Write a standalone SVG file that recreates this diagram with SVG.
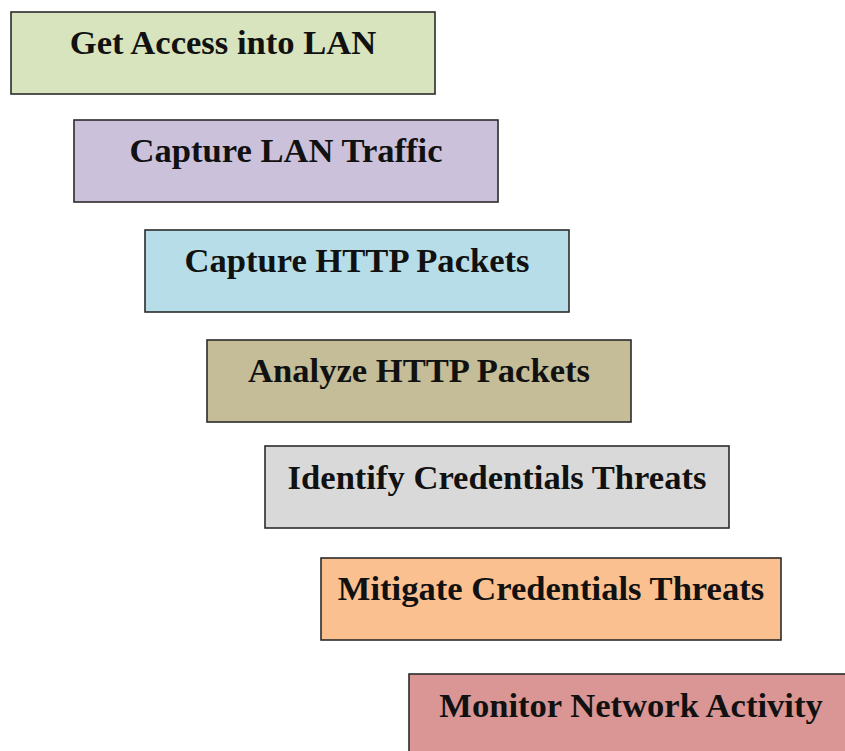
<svg xmlns="http://www.w3.org/2000/svg" width="845" height="751" viewBox="0 0 845 751">
<style>
.box{stroke:#2b2b2b;stroke-width:1.6}
.lbl{font-family:"Liberation Serif","Times New Roman",serif;font-weight:bold;font-size:34.6px;fill:#111;text-anchor:middle}
</style>
<rect width="845" height="751" fill="#ffffff"/>
<g id="connectors"></g>
<g id="n1"><rect class="box" x="11" y="12" width="424" height="82" fill="#d7e4bd"/><text class="lbl" x="223" y="54">Get Access into LAN</text></g>
<g id="n2"><rect class="box" x="74" y="120" width="424" height="82" fill="#ccc1da"/><text class="lbl" x="286" y="162">Capture LAN Traffic</text></g>
<g id="n3"><rect class="box" x="145" y="230" width="424" height="82" fill="#b7dee8"/><text class="lbl" x="357" y="272">Capture HTTP Packets</text></g>
<g id="n4"><rect class="box" x="207" y="340" width="424" height="82" fill="#c4bd97"/><text class="lbl" x="419" y="382">Analyze HTTP Packets</text></g>
<g id="n5"><rect class="box" x="265" y="446" width="464" height="82" fill="#d9d9d9"/><text class="lbl" x="497" y="489">Identify Credentials Threats</text></g>
<g id="n6"><rect class="box" x="321" y="558" width="460" height="82" fill="#fac090"/><text class="lbl" x="551" y="600">Mitigate Credentials Threats</text></g>
<g id="n7"><rect class="box" x="409" y="674" width="444" height="90" fill="#d99694"/><text class="lbl" x="631" y="717">Monitor Network Activity</text></g>
</svg>
